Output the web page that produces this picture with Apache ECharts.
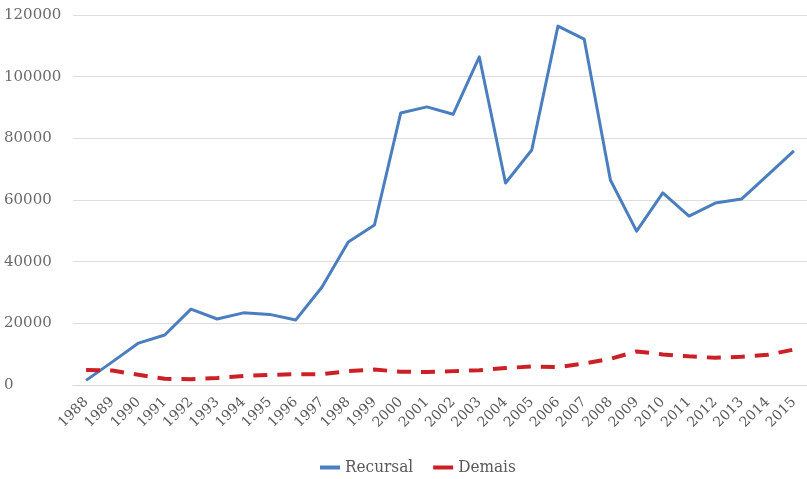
<!DOCTYPE html>
<html>
<head>
<meta charset="utf-8">
<script src="https://cdn.jsdelivr.net/npm/echarts@6/dist/echarts.min.js"></script>
<style>
  html, body { margin: 0; padding: 0; background: #fff; }
  #chart { width: 807px; height: 479px; }
</style>
</head>
<body>
<div id="chart"></div>
<script>
// Years on the horizontal axis
const years = ['1988','1989','1990','1991','1992','1993','1994','1995','1996','1997',
  '1998','1999','2000','2001','2002','2003','2004','2005','2006','2007',
  '2008','2009','2010','2011','2012','2013','2014','2015'];

// Recursal series
const recursal = [1500, 7500, 13600, 16200, 24600, 21400, 23400, 22900, 21100, 31800,
  46400, 51900, 88200, 90200, 87800, 106400, 65500, 76200, 116400, 112200,
  66500, 49900, 62300, 54800, 59000, 60300, 68100, 75900];

// Demais series
const demais = [4900, 4700, 3300, 2000, 1900, 2300, 2900, 3300, 3500, 3500,
  4500, 5000, 4300, 4200, 4500, 4800, 5500, 6000, 5800, 7000,
  8500, 10900, 9900, 9300, 8800, 9200, 9800, 11500];

// Value axis ticks
const yTicks = [0, 20000, 40000, 60000, 80000, 100000, 120000];

const serif = 'DejaVu Serif';
const chart = echarts.init(document.getElementById('chart'), null, { renderer: 'canvas' });

chart.setOption({
  animation: false,
  backgroundColor: '#ffffff',
  grid: { left: 73, right: -3, top: 15, bottom: 94, containLabel: false },
  legend: {
    left: 315,
    top: 454,
    itemGap: 20,
    itemWidth: 20,
    itemHeight: 4,
    icon: 'rect',
    textStyle: { fontFamily: 'DejaVu Serif Condensed', fontSize: 17, color: '#595959' },
    data: ['Recursal', 'Demais']
  },
  xAxis: {
    type: 'category',
    data: years,
    boundaryGap: true,
    axisLine: { show: true, lineStyle: { color: '#d9d9d9', width: 1 } },
    axisTick: { show: false },
    axisLabel: {
      interval: 0,
      rotate: 45,
      margin: 15,
      fontFamily: serif,
      fontSize: 14,
      color: '#595959'
    }
  },
  yAxis: {
    type: 'value',
    min: yTicks[0],
    max: yTicks[yTicks.length - 1],
    interval: yTicks[1] - yTicks[0],
    axisLine: { show: false },
    axisTick: { show: false },
    splitLine: { lineStyle: { color: '#dedede', width: 1 } },
    axisLabel: {
      align: 'left',
      margin: 69,
      fontFamily: serif,
      fontSize: 15,
      color: '#6b6b6b',
      formatter: (v) => String(v)
    }
  },
  series: [
    {
      name: 'Recursal',
      type: 'line',
      data: recursal,
      symbol: 'none',
      color: '#4a7ebf',
      lineStyle: { color: '#4a7ebf', width: 3, join: 'round' }
    },
    {
      name: 'Demais',
      type: 'line',
      data: demais,
      symbol: 'none',
      color: '#cc2027',
      lineStyle: { color: '#cc2027', width: 4, type: [14, 10] }
    }
  ]
});
</script>
</body>
</html>
